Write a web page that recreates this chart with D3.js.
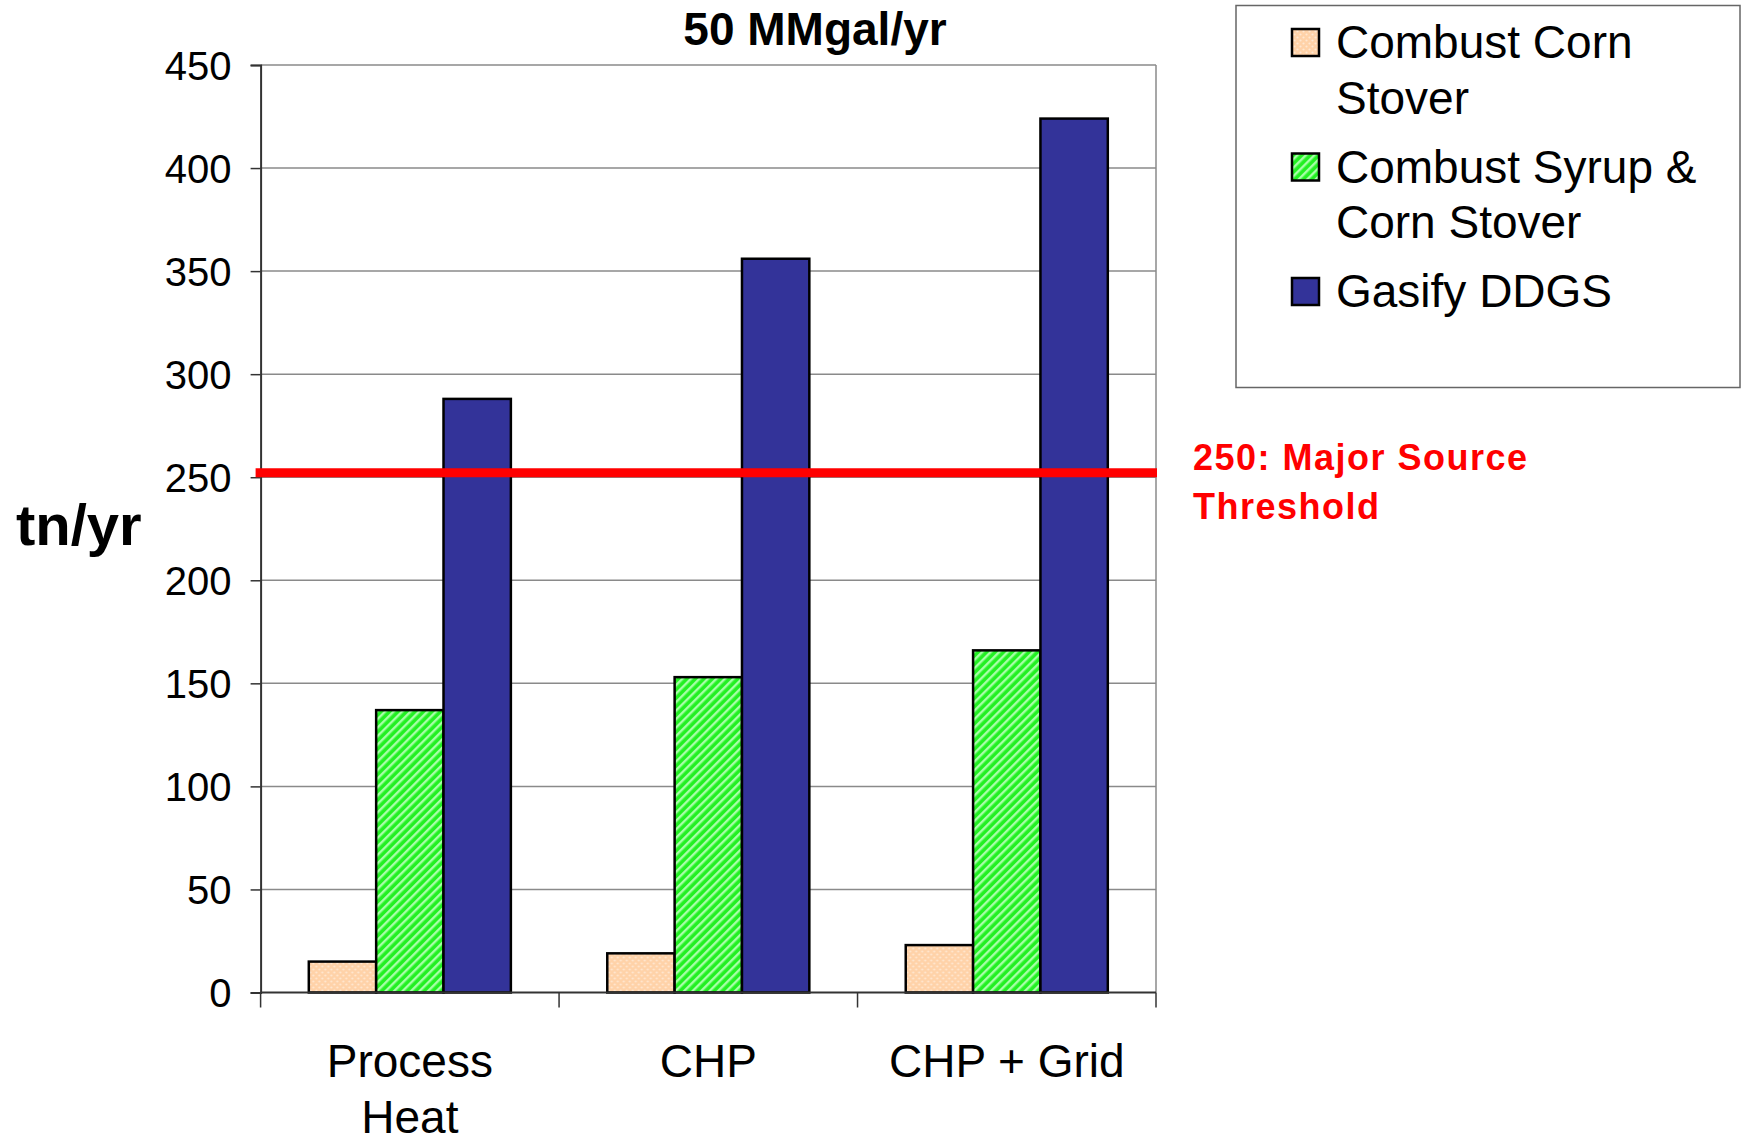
<!DOCTYPE html>
<html>
<head>
<meta charset="utf-8">
<script src="https://cdn.jsdelivr.net/npm/d3@7"></script>
<style>
  body { margin: 0; background: #fff; }
  text { font-family: "Liberation Sans", Arial, sans-serif; }
</style>
</head>
<body>
<div id="content"></div>
<script>
// values
const categories = [["Process", "Heat"], ["CHP"], ["CHP + Grid"]];
const seriesNames = [["Combust Corn", "Stover"], ["Combust Syrup &", "Corn Stover"], ["Gasify DDGS"]];
const cornStover = [15, 19, 23];
const syrupStover = [137, 153, 166];
const gasifyDDGS = [288, 356, 424];
const yTicks = [0, 50, 100, 150, 200, 250, 300, 350, 400, 450];
const threshold = 250;
const thresholdLabel = ["250: Major Source", "Threshold"];
const title = "50 MMgal/yr";
const yLabel = "tn/yr";

const W = 1745;
const H = 1142;
const margin = { left: 260.6, top: 65, right: W - 1156, bottom: H - 992.5 };
const innerWidth = W - margin.left - margin.right;
const innerHeight = H - margin.top - margin.bottom;

const series = [cornStover, syrupStover, gasifyDDGS];
const fills = ["url(#patOrange)", "url(#patGreen)", "#333399"];

const svg = d3.select("#content").append("svg")
  .attr("width", W)
  .attr("height", H);

svg.append("rect").attr("width", W).attr("height", H).attr("fill", "white");

// fill patterns
const defs = svg.append("defs");
const po = defs.append("pattern").attr("id", "patOrange")
  .attr("patternUnits", "userSpaceOnUse").attr("width", 6).attr("height", 6);
po.append("rect").attr("width", 6).attr("height", 6).attr("fill", "#FFD2A8");
po.append("circle").attr("cx", 1.5).attr("cy", 1.5).attr("r", 1.1).attr("fill", "#FFE8D2");
po.append("circle").attr("cx", 4.5).attr("cy", 4.5).attr("r", 1.1).attr("fill", "#FFE8D2");

const pg = defs.append("pattern").attr("id", "patGreen")
  .attr("patternUnits", "userSpaceOnUse").attr("width", 6).attr("height", 6)
  .attr("patternTransform", "rotate(45)");
pg.append("rect").attr("width", 6).attr("height", 6).attr("fill", "#22F022");
pg.append("rect").attr("width", 2.4).attr("height", 6).attr("fill", "#A8FFA8");

const x0 = d3.scaleBand()
  .domain(d3.range(categories.length))
  .range([0, innerWidth])
  .paddingInner(0.323)
  .paddingOuter(0.1615);

const x1 = d3.scaleBand()
  .domain(d3.range(series.length))
  .range([0, x0.bandwidth()]);

const y = d3.scaleLinear().domain([0, 450]).range([innerHeight, 0]);

const g = svg.append("g").attr("transform", `translate(${margin.left},${margin.top})`);

// gridlines
g.append("g").selectAll("line").data(yTicks.filter(d => d > 0)).join("line")
  .attr("x1", 0).attr("x2", innerWidth)
  .attr("y1", d => y(d)).attr("y2", d => y(d))
  .attr("stroke", "#8a8a8a").attr("stroke-width", 1.5);

g.append("line")
  .attr("x1", innerWidth).attr("x2", innerWidth)
  .attr("y1", 0).attr("y2", innerHeight)
  .attr("stroke", "#8a8a8a").attr("stroke-width", 1.5);

// bars
const groups = g.append("g").selectAll("g").data(categories).join("g")
  .attr("transform", (d, i) => `translate(${x0(i)},0)`);

groups.selectAll("rect")
  .data((d, i) => series.map((s, k) => ({ k, v: s[i] })))
  .join("rect")
  .attr("x", d => x1(d.k))
  .attr("y", d => y(d.v))
  .attr("width", x1.bandwidth())
  .attr("height", d => innerHeight - y(d.v))
  .attr("fill", d => fills[d.k])
  .attr("stroke", "#000")
  .attr("stroke-width", 2.5);

// y axis
const yAxis = d3.axisLeft(y).tickValues(yTicks).tickSize(10).tickPadding(19);
const ya = g.append("g").call(yAxis);
ya.select(".domain").attr("stroke", "#333").attr("stroke-width", 2);
ya.selectAll(".tick line").attr("stroke", "#333").attr("stroke-width", 1.5);
ya.selectAll(".tick text")
  .attr("font-size", 40).attr("fill", "#000")
  .attr("font-family", "Liberation Sans, Arial, sans-serif")
  .attr("dy", "0.36em");

// x axis line with category separators
g.append("line")
  .attr("x1", 0).attr("x2", innerWidth)
  .attr("y1", innerHeight).attr("y2", innerHeight)
  .attr("stroke", "#333").attr("stroke-width", 2);

g.append("g").selectAll("line").data(d3.range(categories.length + 1)).join("line")
  .attr("x1", i => i * x0.step()).attr("x2", i => i * x0.step())
  .attr("y1", innerHeight).attr("y2", innerHeight + 15)
  .attr("stroke", "#333").attr("stroke-width", 1.5);

// category labels
g.append("g").selectAll("text").data(categories).join("text")
  .attr("x", (d, i) => x0(i) + x0.bandwidth() / 2)
  .attr("y", innerHeight + 84.5)
  .attr("text-anchor", "middle")
  .attr("font-size", 46)
  .selectAll("tspan").data(d => d).join("tspan")
  .attr("x", function () { return this.parentNode.getAttribute("x"); })
  .attr("dy", (d, j) => j === 0 ? 0 : 56)
  .text(d => d);

// threshold line, sitting on the gridline
const lw = 9;
g.append("line")
  .attr("x1", -5).attr("x2", innerWidth + 1)
  .attr("y1", y(threshold) - lw / 2).attr("y2", y(threshold) - lw / 2)
  .attr("stroke", "#FF0000").attr("stroke-width", lw);

svg.append("text")
  .attr("x", 1193).attr("y", 470)
  .attr("font-size", 36).attr("font-weight", "bold")
  .attr("letter-spacing", 1.5)
  .attr("fill", "#FF0000")
  .selectAll("tspan").data(thresholdLabel).join("tspan")
  .attr("x", 1193)
  .attr("dy", (d, j) => j === 0 ? 0 : 49)
  .text(d => d);

// title and y label
svg.append("text")
  .attr("x", 815).attr("y", 44.5)
  .attr("text-anchor", "middle")
  .attr("font-size", 46).attr("font-weight", "bold")
  .text(title);

svg.append("text")
  .attr("x", 16).attr("y", 545)
  .attr("font-size", 58).attr("font-weight", "bold")
  .text(yLabel);

// legend
const legend = svg.append("g");
legend.append("rect")
  .attr("x", 1236).attr("y", 5.5)
  .attr("width", 504).attr("height", 382)
  .attr("fill", "white").attr("stroke", "#666").attr("stroke-width", 1.5);

let baseline = 58;
seriesNames.forEach((lines, k) => {
  legend.append("rect")
    .attr("x", 1292).attr("y", baseline - 29)
    .attr("width", 27).attr("height", 27)
    .attr("fill", fills[k]).attr("stroke", "#000").attr("stroke-width", 2.5);
  legend.append("text")
    .attr("x", 1336).attr("y", baseline)
    .attr("font-size", 46)
    .selectAll("tspan").data(lines).join("tspan")
    .attr("x", 1336)
    .attr("dy", (d, j) => j === 0 ? 0 : 55.5)
    .text(d => d);
  baseline += lines.length * 55.5 + 13.5;
});
</script>
</body>
</html>
